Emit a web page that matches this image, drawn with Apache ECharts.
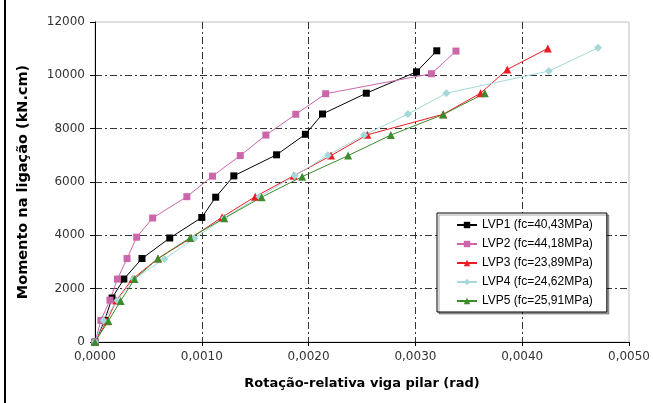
<!DOCTYPE html>
<html>
<head>
<meta charset="utf-8">
<script src="https://cdn.jsdelivr.net/npm/echarts@6/dist/echarts.min.js"></script>
<style>
  html, body { margin: 0; padding: 0; background: #fff; }
  #chart { width: 653px; height: 403px; }
</style>
</head>
<body>
<div id="chart"></div>
<script>
// rotação relativa (rad) e momento (kN.cm)
const lvp1X = [0, 0.00009, 0.00016, 0.00027, 0.00044, 0.0007, 0.0010, 0.00113, 0.0013, 0.0017, 0.00197, 0.00213, 0.00254, 0.00301, 0.0032]
const lvp1Y = [0, 810, 1650, 2360, 3130, 3900, 4670, 5430, 6230, 7020, 7790, 8550, 9330, 10130, 10920]

const lvp2X = [0, 0.000055, 0.00014, 0.00021, 0.0003, 0.00039, 0.00054, 0.00086, 0.0011, 0.00136, 0.0016, 0.00188, 0.00216, 0.00315, 0.00338]
const lvp2Y = [0, 810, 1570, 2360, 3130, 3930, 4650, 5450, 6220, 6990, 7760, 8540, 9310, 10060, 10910]

const lvp3X = [0, 0.00011, 0.0002, 0.00035, 0.00059, 0.0009, 0.00119, 0.0015, 0.00186, 0.00221, 0.00255, 0.00326, 0.00361, 0.00386, 0.00424]
const lvp3Y = [0, 780, 1560, 2360, 3130, 3900, 4680, 5450, 6230, 6990, 7770, 8540, 9330, 10220, 11010]

const lvp4X = [0, 0.00008, 0.00021, 0.00036, 0.00065, 0.00093, 0.00121, 0.00154, 0.00187, 0.00218, 0.00252, 0.00293, 0.00329, 0.00425, 0.00471]
const lvp4Y = [0, 810, 1560, 2360, 3110, 3880, 4650, 5450, 6230, 7000, 7760, 8550, 9330, 10160, 11030]

const lvp5X = [0, 0.000125, 0.00024, 0.00037, 0.00059, 0.00089, 0.00121, 0.00156, 0.00194, 0.00237, 0.00277, 0.00326, 0.00365]
const lvp5Y = [0, 790, 1540, 2360, 3130, 3910, 4640, 5430, 6200, 6990, 7760, 8530, 9330]

const seriesNames = [
  'LVP1 (fc=40,43MPa)',
  'LVP2 (fc=44,18MPa)',
  'LVP3 (fc=23,89MPa)',
  'LVP4 (fc=24,62MPa)',
  'LVP5 (fc=25,91MPa)',
]
const seriesColors = ['#000000', '#cc66aa', '#ee1c24', '#a3d9d9', '#3c8c2c']
const seriesSymbols = ['rect', 'rect', 'triangle', 'diamond', 'triangle']
const seriesSizes = [7, 7, 8, 8, 8]
const xs = [lvp1X, lvp2X, lvp3X, lvp4X, lvp5X]
const ys = [lvp1Y, lvp2Y, lvp3Y, lvp4Y, lvp5Y]

const fontFamily = '"DejaVu Sans", "Liberation Sans", Arial, sans-serif'
const legendFont = '"Liberation Sans", Arial, sans-serif'
const gridDash = {
  color: '#333',
  width: 1,
  type: [7, 3, 2, 3],
}

const chart = echarts.init(document.getElementById('chart'), null, { renderer: 'canvas' })

const series = seriesNames.map((name, i) => ({
  name,
  type: 'line',
  data: xs[i].map((x, k) => [x, ys[i][k]]),
  symbol: seriesSymbols[i],
  symbolSize: seriesSizes[i],
  showAllSymbol: true,
  color: seriesColors[i],
  lineStyle: { width: 1, color: seriesColors[i] },
  itemStyle: { color: seriesColors[i] },
  animation: false,
}))

chart.setOption({
  backgroundColor: '#fff',
  animation: false,
  textStyle: { fontFamily },
  grid: {
    left: 95,
    right: 23,
    top: 22,
    bottom: 61,
    show: true,
    borderColor: '#c0c0c0',
    borderWidth: 1,
    containLabel: false,
  },
  xAxis: {
    type: 'value',
    min: 0,
    max: 0.005,
    interval: 0.001,
    name: 'Rotação-relativa viga pilar (rad)',
    nameLocation: 'middle',
    nameGap: 35,
    nameTextStyle: { fontFamily, fontWeight: 'bold', fontSize: 13, color: '#000' },
    axisLine: { show: true, lineStyle: { color: '#000', width: 1 } },
    axisTick: { show: true, length: 4, lineStyle: { color: '#000' } },
    axisLabel: {
      fontFamily,
      fontSize: 12,
      color: '#333',
      margin: 9,
      formatter: (v) => v.toFixed(4).replace('.', ','),
    },
    splitLine: { show: true, showMinLine: false, showMaxLine: false, lineStyle: gridDash },
  },
  yAxis: {
    type: 'value',
    min: 0,
    max: 12000,
    interval: 2000,
    name: 'Momento na ligação (kN.cm)',
    nameLocation: 'middle',
    nameGap: 64,
    nameTextStyle: { fontFamily, fontWeight: 'bold', fontSize: 14.5, color: '#000' },
    axisLine: { show: true, lineStyle: { color: '#000', width: 1 } },
    axisTick: { show: true, length: 5, lineStyle: { color: '#000' } },
    axisLabel: {
      fontFamily,
      fontSize: 12,
      color: '#333',
      margin: 10,
      formatter: (v) => String(v),
    },
    splitLine: { show: true, showMinLine: false, showMaxLine: false, lineStyle: gridDash },
  },
  legend: {
    orient: 'vertical',
    left: 437,
    top: 213,
    width: 173,
    padding: [5, 14, 4, 19],
    itemGap: 5,
    itemWidth: 20,
    itemHeight: 8,
    backgroundColor: '#fff',
    borderColor: '#000',
    borderWidth: 1,
    borderRadius: 0,
    shadowColor: 'rgba(0,0,0,0.35)',
    shadowOffsetX: 2,
    shadowOffsetY: 2,
    shadowBlur: 0,
    textStyle: { fontFamily: legendFont, fontSize: 12, color: '#000', lineHeight: 14 },
    data: seriesNames,
  },
  graphic: [
    {
      type: 'line',
      shape: { x1: 5, y1: 0, x2: 5, y2: 403 },
      style: { stroke: '#000', lineWidth: 2 },
      silent: true,
    },
  ],
  series,
})
</script>
</body>
</html>
